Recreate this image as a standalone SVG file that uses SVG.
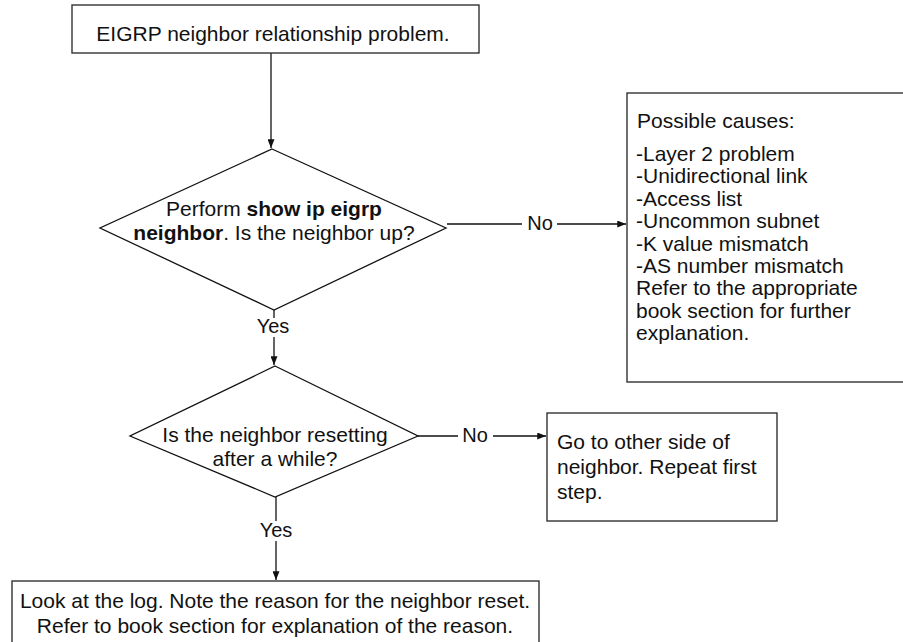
<svg xmlns="http://www.w3.org/2000/svg" width="903" height="642" viewBox="0 0 903 642">
<style>
.box{fill:#fff;stroke:#333;stroke-width:1.4}
.dia{fill:#fff;stroke:#111;stroke-width:1.3}
.t{font-family:"Liberation Sans",Arial,sans-serif;font-size:21px;fill:#111}
.lbl{font-family:"Liberation Sans",Arial,sans-serif;font-size:20px;fill:#111;text-anchor:middle}
.c{fill:none;stroke:#111;stroke-width:1.3}
.m{text-anchor:middle}
</style>
<defs>
<marker id="arr" viewBox="0 0 10 8" refX="10" refY="4" markerWidth="9" markerHeight="7" markerUnits="userSpaceOnUse" orient="auto">
<path d="M0,0 L10,4 L0,8 z" fill="#111"/>
</marker>
</defs>
<rect width="903" height="642" fill="#fff"/>
<g id="connectors">
<path class="c" d="M271,53 V148" marker-end="url(#arr)"/>
<path class="c" d="M447,224 H522"/>
<path class="c" d="M557,224 H626" marker-end="url(#arr)"/>
<text class="lbl" x="540" y="230">No</text>
<path class="c" d="M274,310 V318"/>
<text class="lbl" x="273" y="333">Yes</text>
<path class="c" d="M274,337 V365" marker-end="url(#arr)"/>
<path class="c" d="M418,436 H458"/>
<path class="c" d="M493,436 H546" marker-end="url(#arr)"/>
<text class="lbl" x="475" y="442">No</text>
<path class="c" d="M276,497 V521"/>
<text class="lbl" x="276" y="537">Yes</text>
<path class="c" d="M276,541 V580" marker-end="url(#arr)"/>
</g>
<g id="start">
<rect class="box" x="72" y="5" width="407" height="48"/>
<text class="t m" x="273" y="41">EIGRP neighbor relationship problem.</text>
</g>
<g id="decision1">
<polygon class="dia" points="272,149 446,228 274,310 100,228"/>
<text class="t m" x="274" y="216">Perform <tspan font-weight="bold">show ip eigrp</tspan></text>
<text class="t m" x="274" y="240"><tspan font-weight="bold">neighbor</tspan>. Is the neighbor up?</text>
</g>
<g id="causes">
<rect class="box" x="627" y="93" width="290" height="289"/>
<text class="t" x="637" y="128">Possible causes:</text>
<text class="t" x="636" y="161">-Layer 2 problem</text>
<text class="t" x="636" y="183.4">-Unidirectional link</text>
<text class="t" x="636" y="205.8">-Access list</text>
<text class="t" x="636" y="228.2">-Uncommon subnet</text>
<text class="t" x="636" y="250.6">-K value mismatch</text>
<text class="t" x="636" y="273">-AS number mismatch</text>
<text class="t" x="636" y="295.4">Refer to the appropriate</text>
<text class="t" x="636" y="317.8">book section for further</text>
<text class="t" x="636" y="340.2">explanation.</text>
</g>
<g id="decision2">
<polygon class="dia" points="275,366 418,436 275,497 130,436"/>
<text class="t m" x="275" y="442">Is the neighbor resetting</text>
<text class="t m" x="275" y="466">after a while?</text>
</g>
<g id="otherside">
<rect class="box" x="547" y="413" width="230" height="108"/>
<text class="t" x="557" y="449">Go to other side of</text>
<text class="t" x="557" y="474">neighbor. Repeat first</text>
<text class="t" x="557" y="499">step.</text>
</g>
<g id="log">
<rect class="box" x="12" y="581" width="527" height="70"/>
<text class="t m" x="275" y="608">Look at the log. Note the reason for the neighbor reset.</text>
<text class="t m" x="275" y="633">Refer to book section for explanation of the reason.</text>
</g>
</svg>
